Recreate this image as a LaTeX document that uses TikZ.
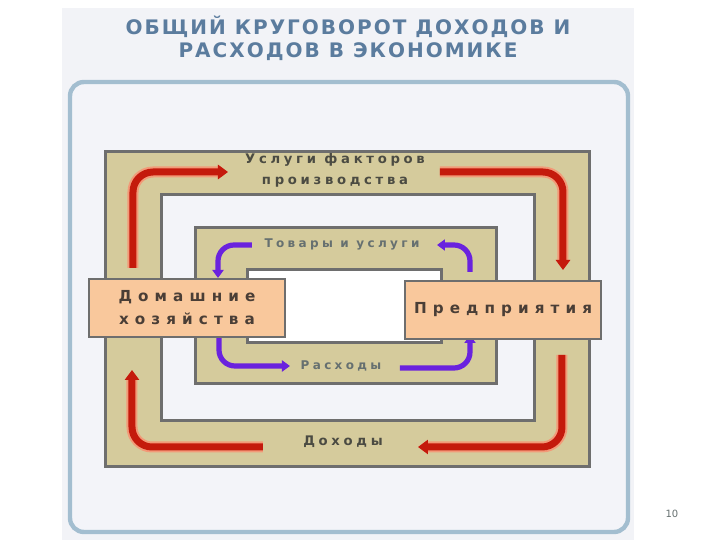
\documentclass[tikz,border=0pt]{standalone}
\usepackage{fontspec}
\setsansfont{DejaVu Sans}
\newfontfamily\titlefont[LetterSpace=10]{DejaVu Sans}
\newfontfamily\widefont[LetterSpace=40]{DejaVu Sans}
\newfontfamily\flowfont[LetterSpace=28]{DejaVu Sans}
\usetikzlibrary{arrows.meta}
\definecolor{panelbg}{HTML}{F2F3F7}
\definecolor{framefill}{HTML}{F3F4F9}
\definecolor{frameblue}{HTML}{A3BED0}
\definecolor{bandtan}{HTML}{D5CB9C}
\definecolor{framegray}{HTML}{6E6E6E}
\definecolor{peach}{HTML}{F9C89C}
\definecolor{titleblue}{HTML}{5B7C9E}
\definecolor{nodetext}{HTML}{4A3E36}
\definecolor{flowred}{HTML}{C41A0C}
\definecolor{flowhalo}{HTML}{F29A78}
\definecolor{flowviolet}{HTML}{6A22DE}
\definecolor{bandtext}{HTML}{4B4B42}
\definecolor{softtext}{HTML}{667070}
\begin{document}
\begin{tikzpicture}[x=0.5pt, y=-0.5pt,
	band/.style = {draw=framegray, line width=1.5pt, fill=bandtan},
	hole/.style = {draw=framegray, line width=1.5pt, fill=framefill},
	sector/.style = {draw=framegray, line width=1.2pt, fill=peach, minimum width=98pt, minimum height=29pt, inner sep=0pt, align=center, text=nodetext, font=\widefont\bfseries\fontsize{7.6}{11.5}\selectfont},
	money/.style = {draw=flowred, line width=3.5pt, rounded corners=10pt, -{Triangle[width=7pt,length=5pt]}, preaction={draw=flowhalo, line width=5.5pt}},
	goods/.style = {draw=flowviolet, line width=2.6pt, rounded corners=8pt, -{Triangle[width=5.5pt,length=4pt]}},
	bandtitle/.style = {text=bandtext, align=center, font=\flowfont\bfseries\fontsize{6.6}{10.5}\selectfont},
	innertitle/.style = {text=softtext, font=\flowfont\bfseries\fontsize{6}{8}\selectfont}]
	\useasboundingbox (0,0) rectangle (720,540);
	\fill[white] (0,0) rectangle (720,540);
	\fill[panelbg] (62,8) rectangle (634,540);
	\node[text=titleblue, align=center, font=\titlefont\bfseries\fontsize{10}{11.5}\selectfont] (title) at (348,38) {ОБЩИЙ КРУГОВОРОТ ДОХОДОВ И\\РАСХОДОВ В ЭКОНОМИКЕ};
	\draw[frameblue, line width=2.2pt, fill=framefill, rounded corners=7pt] (70,82) rectangle (628,532);
	\draw[band] (106,152) rectangle (590,467);
	\draw[hole] (162,195) rectangle (535,421);
	\draw[band] (196,228) rectangle (497,384);
	\draw[hole, fill=white] (248,270) rectangle (442,343);
	\node[bandtitle] (services) at (335,170) {Услуги факторов\\производства};
	\node[bandtitle] (income) at (343,442) {Доходы};
	\node[innertitle] (goodsname) at (342,244) {Товары и услуги};
	\node[innertitle] (spending) at (341,366) {Расходы};
	\coordinate (r1a) at (133,268);
	\coordinate (r1b) at (228,172);
	\coordinate (r2a) at (440,172);
	\coordinate (r2b) at (563,270);
	\coordinate (r3a) at (562,355);
	\coordinate (r3b) at (418,447);
	\coordinate (r4a) at (263,447);
	\coordinate (r4b) at (132,370);
	\coordinate (p1a) at (252,245);
	\coordinate (p1b) at (218,278);
	\coordinate (p2a) at (470,272);
	\coordinate (p2b) at (437,245);
	\coordinate (p3a) at (219,333);
	\coordinate (p3b) at (290,366);
	\coordinate (p4a) at (400,368);
	\coordinate (p4b) at (470,335);
	\draw[money] (r1a) |- (r1b);
	\draw[money] (r2a) -| (r2b);
	\draw[money] (r3a) |- (r3b);
	\draw[money] (r4a) -| (r4b);
	\draw[goods] (p1a) -| (p1b);
	\draw[goods] (p2a) |- (p2b);
	\draw[goods] (p3a) |- (p3b);
	\draw[goods] (p4a) -| (p4b);
	\node[sector] (home) at (187,308) {Домашние\\хозяйства};
	\node[sector] (firms) at (503,310) {Предприятия};
	\node[text=softtext, font=\sffamily\fontsize{5}{6}\selectfont] (page) at (672,514) {10};
\end{tikzpicture}
\end{document}
